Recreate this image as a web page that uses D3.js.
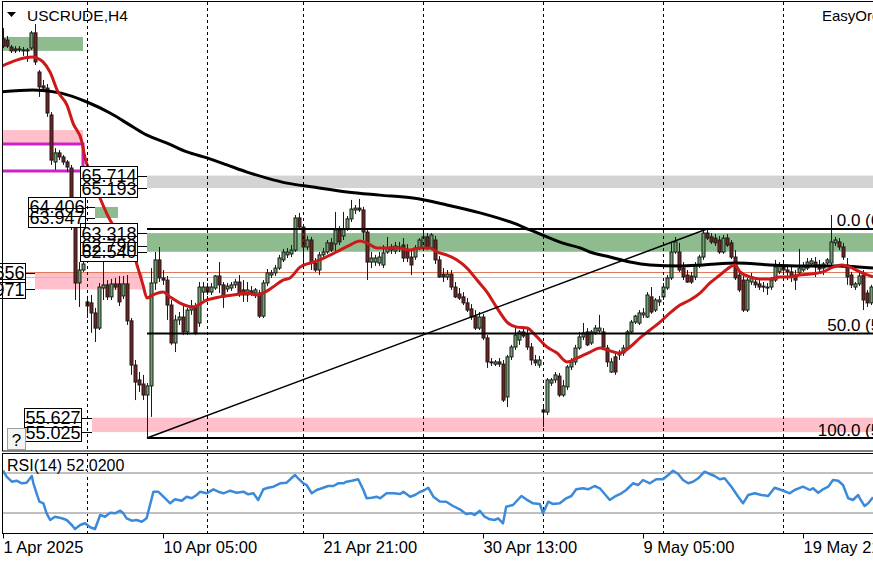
<!DOCTYPE html>
<html>
<head>
<meta charset="utf-8">
<script src="https://cdn.jsdelivr.net/npm/d3@7"></script>
<style>
  html, body { margin: 0; padding: 0; background: #fff; }
  svg { display: block; }
</style>
</head>
<body>
<div id="chart"></div>
<script>
// USCRUDE H4 candles [open, high, low, close], bar 0 = 1 Apr 2025
const ohlc = [
  [71.41,71.86,71.03,71.11],[71.36,71.53,71.03,71.11],[71.07,71.16,70.82,70.91],[70.99,71.11,70.82,70.91],
  [70.95,71.11,70.86,70.99],[70.95,71.07,70.70,70.91],[70.91,71.03,70.45,70.95],[71.03,71.74,70.95,71.66],
  [71.66,72.03,70.32,70.45],[70.03,70.11,68.99,69.41],[69.45,69.70,69.20,69.36],[69.36,69.53,68.16,68.32],
  [68.24,68.36,66.16,66.36],[66.28,66.86,65.95,66.66],[66.66,66.78,66.36,66.49],[66.49,66.57,66.16,66.28],
  [66.28,66.36,65.86,66.07],[66.03,66.16,63.45,64.11],[64.11,64.28,60.53,61.24],[61.24,62.11,60.24,61.78],
  [61.78,62.32,61.70,62.03],[60.45,60.70,59.78,60.28],[60.41,60.74,59.16,59.99],[59.99,60.20,58.78,59.36],
  [59.36,61.24,59.28,61.07],[61.03,62.32,60.53,61.16],[61.16,61.36,60.53,60.66],[60.66,61.41,60.53,61.20],
  [61.20,61.45,60.95,61.07],[61.20,61.53,60.28,60.45],[60.70,61.53,60.57,61.20],[61.20,61.57,59.49,59.66],
  [59.66,59.78,57.41,57.82],[57.82,58.03,56.36,57.11],[57.20,57.53,56.70,56.99],[57.03,57.41,56.36,56.57],
  [56.57,57.07,54.78,56.95],[56.95,61.86,55.66,61.24],[61.24,62.53,60.95,62.20],[62.20,62.74,61.28,61.45],
  [61.45,61.78,61.16,61.36],[61.36,61.53,59.70,60.32],[60.32,60.53,58.66,58.74],[58.74,59.91,58.36,59.70],
  [59.70,60.03,59.49,59.82],[59.82,60.32,59.07,59.20],[59.20,60.20,59.07,60.11],[60.11,60.53,59.91,60.28],
  [60.24,60.41,59.07,59.16],[59.57,61.28,59.41,61.07],[60.86,61.28,60.53,61.07],[61.07,61.24,60.74,60.86],
  [60.86,61.24,60.74,61.07],[61.03,61.57,60.95,61.53],[61.53,62.11,60.82,61.16],[61.16,61.28,60.20,60.66],
  [60.99,61.24,60.86,61.11],[61.03,61.28,60.91,61.16],[61.16,61.41,61.03,61.28],[61.28,61.57,60.66,60.74],
  [60.95,61.36,60.45,60.74],[60.74,61.28,60.45,60.95],[60.91,61.11,60.70,60.82],[60.82,61.03,60.61,60.95],
  [60.82,60.95,59.78,59.86],[59.86,61.36,59.78,61.24],[61.24,61.82,61.11,61.66],[61.57,61.78,61.45,61.66],
  [61.66,61.99,61.53,61.86],[61.86,62.41,61.78,62.28],[62.20,62.66,62.11,62.53],[62.41,62.70,62.28,62.53],
  [62.45,62.82,62.32,62.61],[62.61,64.07,62.53,63.95],[63.95,64.16,63.53,63.57],[63.57,63.70,61.91,62.74],
  [62.74,63.20,62.61,63.03],[63.03,63.16,61.78,62.07],[62.07,62.28,61.70,61.78],[61.78,62.53,61.57,62.41],
  [62.41,62.70,62.28,62.53],[62.53,63.03,62.45,62.91],[62.91,63.11,62.53,62.61],[62.86,64.20,62.53,63.45],
  [63.45,63.61,62.82,62.95],[63.20,64.20,63.03,63.49],[63.49,64.03,63.41,63.91],[63.91,64.70,63.78,64.32],
  [64.28,64.49,64.11,64.36],[64.36,64.74,64.20,64.28],[64.28,64.41,63.03,63.36],[63.36,63.53,61.36,62.11],
  [62.11,62.53,61.86,62.28],[62.11,62.41,61.95,62.28],[62.07,62.53,61.95,62.32],[61.99,62.82,61.86,62.49],
  [62.53,63.16,62.45,62.70],[62.61,62.86,62.45,62.74],[62.57,62.95,62.45,62.78],[62.70,62.95,62.53,62.74],
  [62.82,63.11,62.11,62.28],[62.61,62.86,62.11,62.28],[62.32,62.61,61.57,61.99],[62.32,62.82,62.20,62.70],
  [62.70,63.11,62.61,63.03],[62.70,63.36,62.61,63.16],[63.16,63.32,62.61,62.70],[62.70,63.32,62.61,63.24],
  [63.03,63.20,62.03,62.20],[62.20,62.36,61.45,61.49],[61.61,61.86,61.28,61.49],[61.49,61.78,61.36,61.61],
  [61.61,61.78,60.95,61.07],[61.07,61.28,60.61,60.66],[60.78,61.03,60.53,60.61],[60.66,60.86,60.32,60.41],
  [60.41,60.61,60.03,60.11],[60.16,60.36,59.70,59.82],[59.86,60.11,59.28,59.36],[59.36,60.03,59.28,59.82],
  [59.82,59.95,58.86,58.95],[58.95,59.07,57.70,57.95],[57.95,58.11,57.78,57.91],[57.86,58.03,57.78,57.95],
  [57.95,58.11,57.74,57.86],[57.86,58.03,56.28,56.36],[56.49,58.24,56.07,58.16],[58.16,58.66,58.03,58.57],
  [58.57,59.36,58.45,59.07],[58.86,59.28,58.66,59.20],[59.20,59.41,58.95,59.03],[59.11,59.36,58.45,58.57],
  [58.57,58.74,57.82,58.03],[58.03,58.24,57.78,57.91],[57.82,58.20,57.70,58.03],[55.95,56.07,55.24,55.86],
  [55.86,57.28,55.74,57.20],[57.07,57.28,56.95,57.20],[57.20,57.53,57.07,57.41],[57.36,57.49,56.49,56.57],
  [56.57,57.20,56.49,56.95],[56.91,57.82,56.78,57.74],[57.74,58.11,57.61,57.95],[57.95,58.66,57.82,58.53],
  [58.53,59.20,58.45,58.99],[58.99,59.57,58.86,59.16],[59.20,59.36,58.61,58.66],[58.74,59.28,58.66,59.20],
  [59.16,59.49,59.07,59.36],[59.24,59.91,59.16,59.36],[59.20,59.36,58.53,58.57],[58.53,58.66,57.74,57.95],
  [57.53,58.11,57.49,57.95],[58.16,58.36,57.41,57.53],[58.24,58.45,58.03,58.32],[58.32,58.66,58.20,58.53],
  [58.53,59.28,58.45,59.20],[59.20,59.70,59.11,59.61],[59.61,59.91,59.53,59.86],[59.57,60.11,59.49,59.99],
  [59.91,60.20,59.78,59.99],[59.82,60.86,59.78,60.74],[60.66,61.07,59.95,60.03],[60.11,60.61,60.03,60.53],
  [60.45,60.70,60.28,60.53],[60.66,61.24,60.53,61.07],[61.03,61.57,60.95,61.45],[61.45,62.91,61.36,62.53],
  [62.53,63.16,62.45,62.95],[62.53,62.91,61.70,61.78],[61.86,62.11,61.36,61.49],[61.57,61.78,61.24,61.28],
  [61.53,61.70,61.20,61.28],[61.49,62.11,61.36,61.99],[61.99,62.41,61.86,62.32],[62.32,63.45,62.20,63.32],
  [63.32,63.49,63.03,63.11],[63.16,63.32,62.86,62.95],[63.11,63.28,62.78,62.91],[63.03,63.20,62.45,62.53],
  [62.53,63.24,62.45,63.11],[63.11,63.28,62.74,62.82],[62.91,63.03,62.24,62.32],[62.32,62.61,61.36,61.45],
  [61.57,61.78,60.86,60.95],[61.36,61.53,60.03,60.11],[60.11,61.45,60.03,61.36],[61.28,61.66,61.16,61.49],
  [61.28,61.45,61.03,61.16],[61.20,61.36,60.95,61.07],[61.11,61.28,60.86,61.07],[61.07,61.24,60.74,61.03],
  [61.07,61.49,60.95,61.36],[61.36,62.20,61.28,61.91],[61.70,62.11,61.61,61.99],[61.91,62.11,61.70,61.78],
  [61.78,61.99,61.36,61.70],[61.70,61.95,61.28,61.53],[61.57,61.78,60.95,61.36],[61.66,62.66,61.57,61.86],
  [61.78,62.11,61.70,61.95],[61.86,62.28,61.78,62.11],[62.03,62.28,61.95,62.16],[62.11,62.32,61.49,61.91],
  [61.99,62.20,61.70,61.82],[61.86,62.11,61.57,62.03],[62.07,62.28,61.91,62.20],[62.07,64.07,61.99,62.95],
  [62.91,63.16,62.78,63.03],[62.95,63.11,62.61,62.74],[62.74,62.91,62.20,62.32],[61.99,62.28,61.16,61.49],
  [61.57,61.70,61.03,61.16],[61.07,61.28,60.95,61.20],[61.20,61.66,61.11,61.53],[61.57,61.78,60.11,60.53],
  [60.82,60.95,60.24,60.41],[60.41,61.16,60.32,61.07]
];

// moving averages: [bar, price]
const redMA = [
  [-0.75,70.24],[7.5,70.65],[8.5,70.61],[10,70.45],[11.75,70.03],[13.75,69.20],[16,68.65],[17.5,67.9],
  [19.75,67.11],[20.5,66.45],[21.75,65.86],[24.25,64.78],[26.75,63.86],[29.25,63.24],[31.75,62.90],
  [33.5,61.99],[35,61.16],[36,60.61],[37.5,60.74],[40,60.86],[41.75,60.66],[44.25,60.40],[47.5,60.24],
  [51,60.53],[54.25,60.66],[57.5,60.74],[61,60.82],[63.5,60.74],[65,60.82],[67.5,61.07],[70,61.36],
  [71.75,61.45],[74.25,61.90],[76.75,62.07],[79.25,62.20],[81.75,62.40],[84.25,62.61],[86.75,62.82],
  [89.25,62.99],[91,62.90],[93.5,62.70],[96,62.70],[98.5,62.70],[101.75,62.61],[104.25,62.70],
  [106.75,62.70],[108.5,62.53],[111,62.40],[113.5,62.20],[116,61.86],[118.5,61.36],[121,60.86],
  [123.5,60.20],[126,59.61],[128.5,59.40],[131,59.36],[133.5,58.99],[136,58.57],[138.5,58.32],
  [141,57.95],[143.5,58.11],[146.75,58.36],[149.25,58.53],[151,58.45],[154.25,58.32],[156.75,58.57],
  [159.25,58.95],[161.75,59.28],[164.25,59.61],[166.75,59.99],[169.25,60.32],[171.75,60.53],
  [174.25,60.82],[176.75,61.24],[179.25,61.57],[181.75,61.90],[183,61.99],[184.25,61.70],[186.75,61.49],
  [189.25,61.40],[191.75,61.40],[194.25,61.49],[196.75,61.49],[199.25,61.57],[201.75,61.61],[205,61.70],
  [207.5,61.90],[209.75,61.99],[211.75,61.90],[214.25,61.70],[217.5,61.49]
];
const blackMA = [
  [-0.75,69.20],[7.5,69.28],[14.25,69.16],[21,68.78],[26.75,68.32],[32.5,67.74],[36,67.40],[41,67.07],
  [46,66.70],[51,66.45],[56,66.16],[61,65.86],[66,65.61],[71,65.40],[77.5,65.24],[86,65.03],[94.25,64.90],
  [102.5,64.78],[111,64.49],[119.25,64.16],[127.5,63.74],[131.75,63.45],[136,63.16],[140,62.90],
  [144.25,62.70],[146.75,62.53],[151.75,62.32],[156.75,62.11],[161.75,61.99],[169.25,61.95],[175,61.99],
  [183.5,62.07],[191.75,61.99],[200,61.95],[208.5,61.95],[217.5,61.86]
];

// RSI(14): [bar, value]
const rsiPoints = [
  [0,72.3],[0.9,66.3],[2.2,61.3],[3.4,62.3],[4.7,59.7],[5.9,60.3],[7.2,67],[7.6,59.7],[8.4,49.7],[9.1,41.3],
  [10.1,39.7],[10.9,29.7],[11.8,23],[13,26.3],[14.7,24.7],[15.9,23],[17.2,18],[18,14],[19.3,18],[20.5,19.7],
  [21.8,15.7],[23,14],[24.3,28],[25.5,26.3],[26.8,30.3],[28,29.7],[29.3,32.3],[30.1,29.7],[30.9,24.7],
  [32.2,22.3],[33.4,23],[34.7,21.3],[35.9,24.7],[37.6,51.3],[38.8,51.3],[40.1,46.3],[41.8,39.7],[43,43.7],
  [44.7,42.3],[45.9,46.3],[47.2,44.7],[48.4,48],[49.3,51.3],[50.9,49.7],[52.6,53.7],[53.8,51.3],[55.1,49.7],
  [56.8,52.3],[58.4,50.3],[60.1,51.3],[61.3,48.7],[62.6,49.7],[63.8,43],[65.1,53.7],[66.3,55.3],[67.6,56.3],
  [69.3,59.7],[70.9,60.3],[71.8,63.7],[73,68],[73.8,64.7],[75.1,59.7],[75.9,58],[77.2,49.7],[78.4,53],
  [79.7,54.7],[81.3,57],[82.6,57],[83.8,59.7],[85.1,59.7],[85.9,61.3],[87.2,62.3],[88.8,63.7],[90.1,53],
  [90.9,44.7],[92.2,45.3],[93.4,46.3],[94.3,44.7],[95.9,49.7],[97.6,49.7],[99.3,49],[100.1,51.3],
  [101.8,46.3],[103,48],[104.3,51.3],[105.1,52.3],[106.3,55.3],[107.6,46.3],[109.2,41.5],[110.8,41.3],
  [112.5,37],[114.2,33.7],[115.8,29],[117.1,29.7],[117.9,28],[119.2,32.3],[120.4,26.3],[121.7,23.7],
  [122.9,23],[123.8,24.7],[125,19.7],[125.8,36.3],[127.5,38],[129.6,47],[130.8,43.7],[132.5,39.7],
  [134.2,39],[135,29.7],[136.3,41.3],[137.5,39],[139.2,39.7],[140.8,44.7],[142.1,47],[143.3,53.7],
  [145,54.7],[146.3,53.7],[147.9,57],[149.2,54.7],[151.7,43],[152.9,46.3],[154.6,49.7],[155.8,53],
  [157.5,59.7],[158.8,58],[160,63],[161.7,59.7],[163.3,63.7],[165,63.7],[166.3,68],[167.5,72.3],
  [168.8,69],[170,63],[171.3,59.7],[172.5,61.3],[173.8,64.7],[175.4,71.3],[176.7,69],[177.9,67],
  [179.2,63.7],[180.4,64.7],[182.1,56.3],[183.8,46.3],[185,39.7],[186.3,48],[187.9,49.7],[189.6,48],
  [191.3,47],[192.9,55.3],[194.6,53],[196.7,49.7],[197.9,53],[200,56.3],[201.7,53],[202.5,54.7],
  [203.8,50.3],[205,53.7],[206.3,56.3],[207.5,63],[208.8,62.3],[210,58],[211.3,44.7],[212.5,43],
  [213.8,48],[214.2,44.7],[215.4,37],[216.3,39.7],[217.5,45.7]
];
const rsiLevels = [70, 30];

// week separators and time axis
const weekStarts = [21, 51, 75, 105, 135, 165, 195];
const timeTickBars = [0, 40, 80, 120, 160, 200];
const timeTickLabels = ["1 Apr 2025", "10 Apr 05:00", "21 Apr 21:00", "30 Apr 13:00", "9 May 05:00", "19 May 21:00"];

// rectangles drawn on the chart: [fromBar, toBar, low, high, kind]
const zones = [
  [-2, 20, 70.91, 71.49, "green"],
  [-2, 20, 67.07, 67.61, "pink"],
  [36, 230, 65.193, 65.714, "gray"],
  [23, 28.75, 63.947, 64.406, "green"],
  [36, 230, 62.540, 63.318, "green"],
  [8, 35, 60.971, 61.656, "pink"],
  [22.25, 230, 55.025, 55.627, "pink"]
];
const outlineZone = [-2, 20, 65.90, 67.03];
const levelLines = [61.70, 61.49];

// price tags at the left ends of the zones
const tagPrices = [65.714, 65.193, 64.406, 63.947, 63.318, 62.790, 62.540, 61.656, 60.971, 55.627, 55.025];
const tagColumn = [0, 0, 1, 1, 2, 2, 2, 3, 3, 4, 4];

// fibonacci from the 9 Apr low to the May high
const fibAnchors = [[36, 54.78], [176, 63.49]];
const fibLevels = [0, 50, 100];

const width = 873, height = 562;
const mainTop = 2, mainBottom = 451, rsiTop = 453, rsiBottom = 533;
const font = "'Liberation Sans', Arial, sans-serif";

const svg = d3.select("#chart").append("svg")
  .attr("width", width).attr("height", height)
  .attr("viewBox", [0, 0, width, height]);

svg.append("rect").attr("width", width).attr("height", height).attr("fill", "#fff");

const x = d3.scaleLinear().domain([0, 217]).range([3, 871]);
const y = d3.scaleLinear().domain([73.03, 54.28]).range([0, 450]);
const yR = d3.scaleLinear().domain([90, 10]).range([rsiTop, rsiBottom]);

const defs = svg.append("defs");
defs.append("clipPath").attr("id", "clipMain")
  .append("rect").attr("x", 2.5).attr("y", mainTop).attr("width", width).attr("height", mainBottom - mainTop);
defs.append("clipPath").attr("id", "clipRsi")
  .append("rect").attr("x", 2.5).attr("y", rsiTop).attr("width", width).attr("height", rsiBottom - rsiTop);

const main = svg.append("g").attr("clip-path", "url(#clipMain)");
const zoneColor = { green: "#8fbc8f", pink: "#ffc0cb", gray: "#d3d3d3" };

/* zones behind everything */
main.selectAll("rect.zone").data(zones).join("rect")
  .attr("class", "zone")
  .attr("x", d => x(d[0]))
  .attr("y", d => y(d[3]))
  .attr("width", d => x(d[1]) - x(d[0]))
  .attr("height", d => y(d[2]) - y(d[3]))
  .attr("fill", d => zoneColor[d[4]]);

main.append("path")
  .attr("d", `M${x(outlineZone[0])},${y(outlineZone[3])}H${x(outlineZone[1])}V${y(outlineZone[2])}H${x(outlineZone[0])}`)
  .attr("fill", "none").attr("stroke", "#cc22cc").attr("stroke-width", 3);

// week separators (both panels)
svg.append("g").selectAll("line").data(weekStarts).join("line")
  .attr("x1", d => x(d) + 0.5).attr("x2", d => x(d) + 0.5)
  .attr("y1", mainTop).attr("y2", mainBottom)
  .attr("stroke", "#000").attr("stroke-dasharray", "3,3");
svg.append("g").selectAll("line").data(weekStarts).join("line")
  .attr("x1", d => x(d) + 0.5).attr("x2", d => x(d) + 0.5)
  .attr("y1", rsiTop).attr("y2", rsiBottom)
  .attr("stroke", "#000").attr("stroke-dasharray", "3,3");

main.selectAll("line.level").data(levelLines).join("line")
  .attr("class", "level")
  .attr("x1", 0).attr("x2", width)
  .attr("y1", d => Math.round(y(d)) + 0.5).attr("y2", d => Math.round(y(d)) + 0.5)
  .attr("stroke", (d, i) => i === 0 ? "#e07a5a" : "#c0c0c0").attr("stroke-width", 1);

/* candles */
const bar = main.append("g").selectAll("g").data(ohlc).join("g");
bar.append("line")
  .attr("x1", (d, i) => x(i) + 0.5).attr("x2", (d, i) => x(i) + 0.5)
  .attr("y1", d => y(d[1])).attr("y2", d => y(d[2]))
  .attr("stroke", "#1a1a1a").attr("stroke-width", 1);
bar.append("rect")
  .attr("x", (d, i) => x(i) - 1)
  .attr("y", d => y(Math.max(d[0], d[3])))
  .attr("width", 3)
  .attr("height", d => Math.max(1, Math.abs(y(d[0]) - y(d[3]))))
  .attr("fill", d => d[3] >= d[0] ? "#6fa36f" : "#7b1f1f")
  .attr("stroke", "#1a1a1a").attr("stroke-width", 1);

/* moving averages */
const maLine = d3.line().x(d => x(d[0])).y(d => y(d[1])).curve(d3.curveMonotoneX);
main.append("path").datum(blackMA).attr("d", maLine)
  .attr("fill", "none").attr("stroke", "#000").attr("stroke-width", 3);
main.append("path").datum(redMA).attr("d", maLine)
  .attr("fill", "none").attr("stroke", "#cc1a1a").attr("stroke-width", 3);

/* fibonacci + trendline */
const [fa, fb] = fibAnchors;
const fibPrice = lvl => fb[1] - (fb[1] - fa[1]) * lvl / 100;
main.selectAll("line.fib").data(fibLevels).join("line")
  .attr("class", "fib")
  .attr("x1", x(fa[0])).attr("x2", width)
  .attr("y1", d => y(fibPrice(d))).attr("y2", d => y(fibPrice(d)))
  .attr("stroke", "#000").attr("stroke-width", 2);
main.append("line")
  .attr("x1", x(fa[0])).attr("y1", y(fa[1]))
  .attr("x2", x(fb[0])).attr("y2", y(fb[1]))
  .attr("stroke", "#000").attr("stroke-width", 1.5);
main.selectAll("text.fib").data(fibLevels).join("text")
  .attr("class", "fib")
  .attr("x", 919).attr("y", d => y(fibPrice(d)) - 2.5)
  .attr("text-anchor", "end")
  .attr("font-family", font).attr("font-size", 17).attr("fill", "#000")
  .text(d => `${d.toFixed(1)} (${fibPrice(d).toFixed(2)})`);

/* price tags */
const colLeft = [80, 28, 80, -32, 24];
const colTickEnd = [147, 95, 147, 35, 92];
const tags = tagPrices.map((p, i) => ({ p, col: tagColumn[i] }));
const tagG = svg.append("g");
tagG.selectAll("line").data(tags).join("line")
  .attr("x1", d => colLeft[d.col] + 57).attr("x2", d => colTickEnd[d.col])
  .attr("y1", d => Math.round(y(d.p)) + 0.5).attr("y2", d => Math.round(y(d.p)) + 0.5)
  .attr("stroke", "#000");
tagG.selectAll("rect.bg").data(tags).join("rect")
  .attr("class", "bg")
  .attr("x", d => colLeft[d.col] + 0.5).attr("y", d => Math.round(y(d.p)) - 9.5)
  .attr("width", 57).attr("height", 19)
  .attr("fill", "#fff");
tagG.selectAll("rect.bd").data(tags).join("rect")
  .attr("class", "bd")
  .attr("x", d => colLeft[d.col] + 0.5).attr("y", d => Math.round(y(d.p)) - 9.5)
  .attr("width", 57).attr("height", 19)
  .attr("fill", "none").attr("stroke", "#000");
tagG.selectAll("text").data(tags).join("text")
  .attr("x", d => colLeft[d.col] + 29).attr("y", d => y(d.p) + 6.5)
  .attr("text-anchor", "middle")
  .attr("font-family", font).attr("font-size", 18).attr("fill", "#000")
  .text(d => d.p.toFixed(3));

// "?" button
svg.append("rect").attr("x", 7.5).attr("y", 428.5).attr("width", 18).attr("height", 21)
  .attr("fill", "#f4f4f4").attr("stroke", "#a0a0a0");
svg.append("text").attr("x", 16.5).attr("y", 446).attr("text-anchor", "middle")
  .attr("font-family", font).attr("font-size", 17).text("?");

/* RSI panel */
const rsiG = svg.append("g").attr("clip-path", "url(#clipRsi)");
rsiG.selectAll("line").data(rsiLevels).join("line")
  .attr("x1", 0).attr("x2", width)
  .attr("y1", d => yR(d)).attr("y2", d => yR(d))
  .attr("stroke", "#c0c0c0").attr("stroke-width", 2);
rsiG.append("path").datum(rsiPoints)
  .attr("d", d3.line().x(d => x(d[0])).y(d => yR(d[1])))
  .attr("fill", "none").attr("stroke", "#3b8ad9").attr("stroke-width", 2.5)
  .attr("stroke-linejoin", "round");
svg.append("text").attr("x", 7).attr("y", 471)
  .attr("font-family", font).attr("font-size", 16).attr("fill", "#000")
  .text("RSI(14) 52.0200");

/* frames */
svg.append("rect").attr("x", 2.5).attr("y", 1.5).attr("width", width).attr("height", mainBottom - 1.5)
  .attr("fill", "none").attr("stroke", "#000");
svg.append("rect").attr("x", 2.5).attr("y", rsiTop + 0.5).attr("width", width).attr("height", rsiBottom - rsiTop)
  .attr("fill", "none").attr("stroke", "#000");

/* time axis */
const xAxis = d3.axisBottom(x)
  .tickValues(timeTickBars)
  .tickFormat((d, i) => timeTickLabels[i])
  .tickSize(5).tickSizeOuter(0);
const axG = svg.append("g").attr("transform", `translate(0,${rsiBottom + 0.5})`).call(xAxis);
axG.select(".domain").remove();
axG.selectAll("line").attr("stroke", "#000");
axG.selectAll("text")
  .attr("text-anchor", "start")
  .attr("font-family", font).attr("font-size", 16.5).attr("fill", "#000");

/* title */
svg.append("path").attr("d", "M7,12L16,12L11.5,17Z").attr("fill", "#000");
svg.append("text").attr("x", 27).attr("y", 21)
  .attr("font-family", font).attr("font-size", 15.5).attr("fill", "#000")
  .text("USCRUDE,H4");
svg.append("text").attr("x", 822).attr("y", 21)
  .attr("font-family", font).attr("font-size", 15).attr("fill", "#000")
  .text("EasyOrders");
</script>
</body>
</html>
